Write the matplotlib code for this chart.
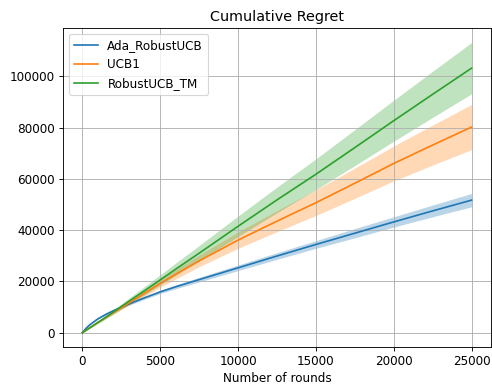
import matplotlib
matplotlib.use('Agg')
import matplotlib.pyplot as plt
import numpy as np

plt.rcParams['font.size'] = 10.8

rounds = [0, 250, 500, 1000, 1500, 2000, 2500, 3000, 4000, 5000, 6000,
          7500, 10000, 12500, 15000, 17500, 20000, 22500, 25000]

# Ada_RobustUCB mean and half band
ada_mean = [0, 1800, 3200, 5400, 7100, 8600, 9900, 11200, 13600, 15900, 17900,
            20700, 25300, 29900, 34400, 38800, 43200, 47500, 51700]
ada_band = [0, 50, 100, 200, 300, 350, 400, 450, 550, 650, 750,
            900, 1100, 1300, 1500, 1800, 2000, 2300, 2600]

# UCB1
ucb_mean = [0, 1000, 2000, 4000, 5900, 7800, 9700, 11600, 15400, 19200, 22800,
            28000, 36100, 43500, 50700, 58300, 66000, 73200, 80200]
ucb_band = [0, 80, 150, 300, 450, 600, 750, 900, 1200, 1500, 1850,
            2300, 3200, 4100, 5000, 5900, 6800, 7800, 8800]

# RobustUCB_TM
tm_mean = [0, 1000, 2000, 4000, 6000, 8100, 10200, 12300, 16400, 20600, 24800,
           31000, 41500, 51800, 61800, 72200, 82700, 93000, 103200]
tm_band = [0, 100, 200, 400, 600, 800, 1000, 1200, 1600, 2000, 2400,
           3000, 4000, 5000, 6000, 7000, 8000, 9000, 10000]

series = [('Ada_RobustUCB', ada_mean, ada_band, 'C0'),
          ('UCB1', ucb_mean, ucb_band, 'C1'),
          ('RobustUCB_TM', tm_mean, tm_band, 'C2')]

fig = plt.figure(figsize=(6.15, 4.8), dpi=80)
ax = fig.add_axes([0.128, 0.096, 0.870, 0.831])

x = np.array(rounds)
for name, m, b, c in series:
    m = np.array(m)
    b = np.array(b)
    ax.plot(x, m, color=c, label=name)
    ax.fill_between(x, m - b, m + b, color=c, alpha=0.3, linewidth=0)

ax.grid(True)
ax.set_title('Cumulative Regret')
ax.set_xlabel('Number of rounds')
ax.set_xticks([0, 5000, 10000, 15000, 20000, 25000])
ax.set_yticks([0, 20000, 40000, 60000, 80000, 100000])
ax.legend(loc='upper left')

fig.savefig('out.png', dpi=80)
